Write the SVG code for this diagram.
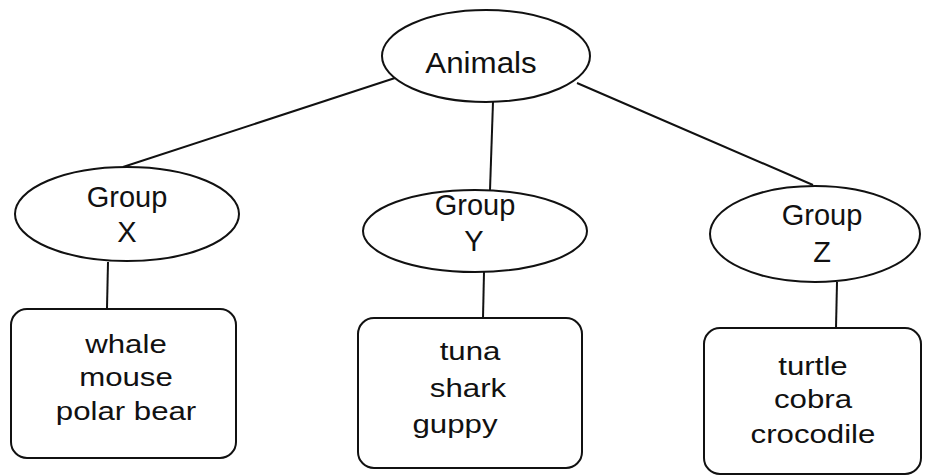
<svg xmlns="http://www.w3.org/2000/svg" width="925" height="475" viewBox="0 0 925 475">
<style>
.shape{fill:#fff;stroke:#111;stroke-width:2}
.conn line{stroke:#111;stroke-width:2}
.lbl{font-family:"Liberation Sans",Arial,sans-serif;font-size:29px;fill:#111;text-anchor:middle}
.item{font-family:"Liberation Sans",Arial,sans-serif;font-size:26px;fill:#111;text-anchor:middle}
</style>
<rect width="925" height="475" fill="#fff"/>
<g id="connectors" class="conn">
<line x1="395" y1="78" x2="123" y2="167"/>
<line x1="493" y1="102" x2="490" y2="190"/>
<line x1="577" y1="83" x2="813" y2="185"/>
<line x1="108" y1="262" x2="107" y2="308"/>
<line x1="484" y1="272" x2="483" y2="318"/>
<line x1="837" y1="282" x2="836" y2="328"/>
</g>
<g id="animals">
<ellipse class="shape" cx="486" cy="56" rx="104" ry="46"/>
<text class="lbl" transform="translate(481,73) scale(1.08,1)">Animals</text>
</g>
<g id="groupX">
<ellipse class="shape" cx="127" cy="214" rx="112" ry="47"/>
<text class="lbl" x="127" y="207">Group</text>
<text class="lbl" x="127" y="242">X</text>
</g>
<g id="groupY">
<ellipse class="shape" cx="475" cy="231" rx="112" ry="41"/>
<text class="lbl" x="475" y="215">Group</text>
<text class="lbl" x="474" y="251">Y</text>
</g>
<g id="groupZ">
<ellipse class="shape" cx="815" cy="234" rx="105" ry="48"/>
<text class="lbl" x="822" y="225">Group</text>
<text class="lbl" x="822" y="262">Z</text>
</g>
<g id="boxX">
<rect class="shape" x="11" y="309" width="225" height="149" rx="16"/>
<text class="item" transform="translate(126,353) scale(1.2,1)">whale</text>
<text class="item" transform="translate(126,386) scale(1.2,1)">mouse</text>
<text class="item" transform="translate(126,420) scale(1.2,1)">polar bear</text>
</g>
<g id="boxY">
<rect class="shape" x="358" y="318" width="224" height="150" rx="16"/>
<text class="item" transform="translate(470,360) scale(1.2,1)">tuna</text>
<text class="item" transform="translate(468,397) scale(1.2,1)">shark</text>
<text class="item" transform="translate(455,433) scale(1.2,1)">guppy</text>
</g>
<g id="boxZ">
<rect class="shape" x="704" y="328" width="217" height="146" rx="16"/>
<text class="item" transform="translate(813,375) scale(1.2,1)">turtle</text>
<text class="item" transform="translate(813,408) scale(1.2,1)">cobra</text>
<text class="item" transform="translate(813,443) scale(1.2,1)">crocodile</text>
</g>
</svg>
